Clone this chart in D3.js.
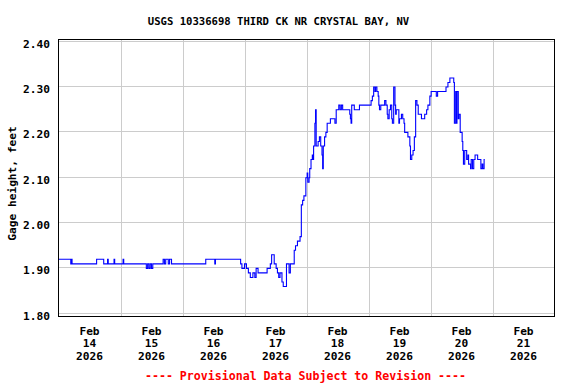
<!DOCTYPE html>
<html><head><meta charset="utf-8">
<script src="https://cdn.jsdelivr.net/npm/d3@7/dist/d3.min.js"></script>
<style>body{margin:0;background:#fff}svg{display:block}text{font-family:"DejaVu Sans Mono",monospace;font-weight:bold}</style>
</head><body>
<script>
const title = "USGS 10336698 THIRD CK NR CRYSTAL BAY, NV";
const yLabel = "Gage height, feet";
const footer = "---- Provisional Data Subject to Revision ----";
const startDate = "2026-02-14T00:00:00";
const yTicks = [1.80, 1.90, 2.00, 2.10, 2.20, 2.30, 2.40];
const xTickDays = ["2026-02-14","2026-02-15","2026-02-16","2026-02-17","2026-02-18","2026-02-19","2026-02-20","2026-02-21"];
// hours since Feb 14 00:00 and gage height (ft)
const hours = [0,4.75,5,5.25,14.75,17.5,19,19.25,21.5,21.75,25,25.25,34,34.5,35,35.5,36,36.5,40.5,41,41.5,42.5,43,43.75,57,60.5,60.75,
70.5,71,72,72.75,73.5,74.25,75.25,76,76.5,77.25,80.75,82,82.5,83.5,84.25,84.75,85.25,85.75,86.5,87,88.25,89.25,89.75,91.25,91.75,92.5,93.5,
94,94.5,95,95.75,96.25,96.5,97,97.25,97.75,98.25,98.5,98.75,99.25,99.5,99.75,100.5,101,101.5,102,102.25,102.5,103,103.5,104,105.25,107,107.5,
108.5,109,109.5,110,112.75,113,113.25,113.5,114.25,114.5,116.5,121,121.5,122,122.5,122.75,123.25,123.75,124,124.25,124.75,126.25,126.75,
127.25,127.5,128,128.5,129,129.25,129.75,130.25,130.5,130.75,131.75,132,132.75,133.25,133.75,134,135.25,136,136.25,136.75,137.25,137.75,
138.25,138.75,139.25,140.5,141.75,142.5,143,143.75,144.25,146.25,146.75,150,150.75,151.5,153,153.25,153.75,154,154.25,154.75,155,155.5,
156.25,156.5,156.75,157.25,158,158.5,158.75,159.5,159.75,160.25,160.75,161.25,162.25,163.5,164,164.25,164.75,165];
const gage = [1.92,1.91,1.92,1.91,1.92,1.91,1.92,1.91,1.92,1.91,1.92,1.91,1.90,1.91,1.90,1.91,1.90,1.91,1.92,1.91,1.92,1.91,1.92,1.91,1.92,1.91,1.92,
1.91,1.90,1.91,1.90,1.89,1.88,1.89,1.88,1.90,1.89,1.90,1.91,1.93,1.91,1.90,1.89,1.88,1.89,1.87,1.86,1.91,1.89,1.91,1.94,1.95,1.96,1.97,
2.04,2.05,2.06,2.10,2.11,2.09,2.10,2.12,2.14,2.15,2.14,2.17,2.22,2.25,2.17,2.18,2.19,2.17,2.15,2.12,2.17,2.19,2.20,2.22,2.23,2.22,2.25,
2.26,2.25,2.26,2.25,2.24,2.23,2.22,2.26,2.26,2.25,2.26,2.27,2.28,2.30,2.29,2.30,2.29,2.28,2.26,2.25,2.26,2.27,2.26,
2.24,2.23,2.25,2.26,2.23,2.22,2.30,2.26,2.24,2.25,2.22,2.23,2.24,2.23,2.22,2.20,2.19,2.17,2.14,2.15,2.16,2.19,
2.27,2.26,2.24,2.23,2.24,2.25,2.26,2.28,2.29,2.28,2.29,2.30,2.31,2.32,2.31,2.22,2.29,2.22,2.29,2.23,2.24,2.20,
2.18,2.16,2.13,2.16,2.14,2.15,2.13,2.12,2.14,2.12,2.14,2.15,2.14,2.12,2.13,2.12,2.14,2.14];

const W = 576, H = 384;
const svg = d3.select("body").append("svg").attr("width", W).attr("height", H);
const t0 = new Date(startDate);
const data = hours.map((h, i) => ({t: new Date(t0.getTime() + h * 3600e3), v: gage[i]}));

const x = d3.scaleTime().domain([t0, new Date("2026-02-22T00:00:00")]).range([58.5, 554.5]);
const y = d3.scaleLinear().domain([1.80, 2.40]).range([313.7, 41.7]);

const frame = {l: 58, r: 554, t: 39.5, b: 316.5};

// grid
const g = svg.append("g");
g.selectAll("line.hg").data(yTicks).enter().append("line")
  .attr("x1", frame.l).attr("x2", frame.r)
  .attr("y1", d => Math.round(y(d)) - 0.5).attr("y2", d => Math.round(y(d)) - 0.5)
  .attr("stroke", "#cccccc").attr("stroke-width", 1);
const dayLines = d3.timeDay.range(new Date("2026-02-15T00:00:00"), new Date("2026-02-22T00:00:00"));
g.selectAll("line.vg").data(dayLines).enter().append("line")
  .attr("x1", d => Math.round(x(d)) + 0.5).attr("x2", d => Math.round(x(d)) + 0.5)
  .attr("y1", frame.t).attr("y2", frame.b)
  .attr("stroke", "#cccccc").attr("stroke-width", 1);

// data line
const line = d3.line().x(d => x(d.t)).y(d => y(d.v)).curve(d3.curveStepAfter);
svg.append("path").datum(data).attr("d", line)
  .attr("fill", "none").attr("stroke", "#0000ff").attr("stroke-width", 1.1);

// frame
svg.append("rect").attr("x", frame.l + 0.5).attr("y", frame.t).attr("width", frame.r - frame.l)
  .attr("height", frame.b - frame.t).attr("fill", "none").attr("stroke", "#000").attr("stroke-width", 1);

// y tick labels
svg.selectAll("text.yt").data(yTicks).enter().append("text")
  .attr("x", 50).attr("y", d => y(d) + 6)
  .attr("text-anchor", "end").attr("font-size", 11.2)
  .text(d => d3.format(".2f")(d));

// x tick labels
const xt = svg.selectAll("g.xt").data(xTickDays).enter().append("g");
xt.each(function(d) {
  const dt = new Date(d + "T12:00:00");
  const cx = x(dt);
  const lines = [d3.timeFormat("%b")(dt), d3.timeFormat("%d")(dt), d3.timeFormat("%Y")(dt)];
  d3.select(this).selectAll("text").data(lines).enter().append("text")
    .attr("x", cx).attr("y", (s, i) => 334.5 + i * 12.8)
    .attr("text-anchor", "middle").attr("font-size", 11.2).text(s => s);
});

// title
svg.append("text").attr("x", 278.5).attr("y", 24.5).attr("text-anchor", "middle")
  .attr("font-size", 10.6).text(title);

// y label
svg.append("text").attr("transform", "translate(15.5,183.5) rotate(-90)")
  .attr("text-anchor", "middle").attr("font-size", 11.2).text(yLabel);

// footer
svg.append("text").attr("x", 305.5).attr("y", 379.5).attr("text-anchor", "middle")
  .attr("font-size", 11.6).attr("fill", "#ff0000").text(footer);
</script>
</body></html>
